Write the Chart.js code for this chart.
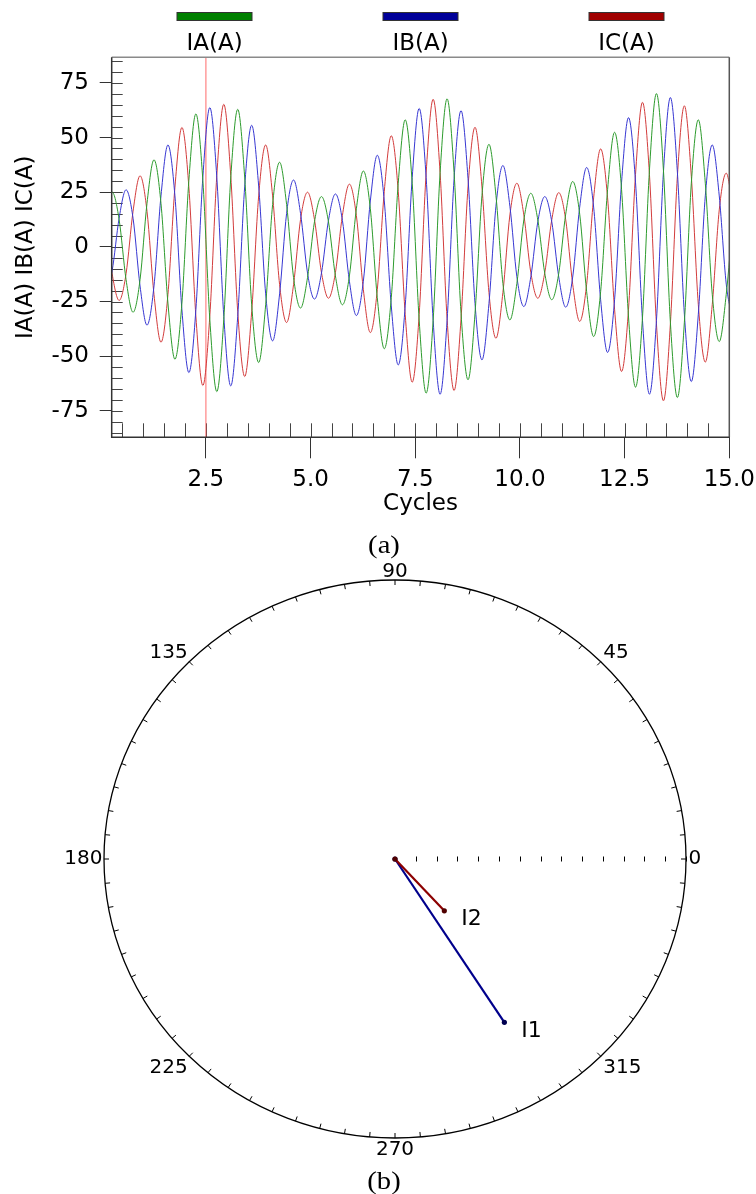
<!DOCTYPE html>
<html><head><meta charset="utf-8">
<script src="https://cdn.jsdelivr.net/npm/chart.js@4.4.1/dist/chart.umd.min.js"></script>
<style>
html,body{margin:0;padding:0;background:#fff;}
#page{position:relative;width:756px;height:1194px;overflow:hidden;background:#fff;}
canvas{position:absolute;left:0;}
.cap{position:absolute;width:120px;left:324px;text-align:center;font-family:'Liberation Serif','Times New Roman',serif;font-size:26px;line-height:30px;color:#000;transform:scaleX(1.1);}
</style></head>
<body><div id="page">
<canvas id="wave" width="756" height="520" style="top:0"></canvas>
<canvas id="phasor" width="756" height="649" style="top:545px"></canvas>
<div class="cap" style="top:530px">(a)</div>
<div class="cap" style="top:1166px">(b)</div>
</div>
<script>
const FONT = "'DejaVu Sans','Liberation Sans',sans-serif";

// ---- (a) waveform data: sample times in cycles (1/6-cycle grid) ----
const cycles = [0.093,
 0.26, 0.427, 0.593, 0.76, 0.927, 1.093,
 1.26, 1.427, 1.593, 1.76, 1.927, 2.093,
 2.26, 2.427, 2.593, 2.76, 2.927, 3.093,
 3.26, 3.427, 3.593, 3.76, 3.927, 4.093,
 4.26, 4.427, 4.593, 4.76, 4.927, 5.093,
 5.26, 5.427, 5.593, 5.76, 5.927, 6.093,
 6.26, 6.427, 6.593, 6.76, 6.927, 7.093,
 7.26, 7.427, 7.593, 7.76, 7.927, 8.093,
 8.26, 8.427, 8.593, 8.76, 8.927, 9.093,
 9.26, 9.427, 9.593, 9.76, 9.927, 10.093,
 10.26, 10.427, 10.593, 10.76, 10.927, 11.093,
 11.26, 11.427, 11.593, 11.76, 11.927, 12.093,
 12.26, 12.427, 12.593, 12.76, 12.927, 13.093,
 13.26, 13.427, 13.593, 13.76, 13.927, 14.093,
 14.26, 14.427, 14.593, 14.76, 14.927, 15.093];

const iaValues = [12.5,
 25.0, 12.5, -15.0, -29.9, -15.0, 19.9,
 39.8, 19.9, -25.7, -51.4, -25.7, 30.4,
 60.8, 30.4, -33.1, -66.2, -33.1, 31.5,
 62.9, 31.5, -26.5, -52.9, -26.5, 19.4,
 38.7, 19.4, -14.0, -28.0, -14.0, 11.5,
 23.0, 11.5, -13.3, -26.5, -13.3, 17.4,
 34.7, 17.4, -23.3, -46.6, -23.3, 29.1,
 58.1, 29.1, -33.5, -66.9, -33.5, 33.9,
 67.7, 33.9, -30.4, -60.8, -30.4, 23.5,
 46.9, 23.5, -16.7, -33.4, -16.7, 12.3,
 24.5, 12.3, -12.1, -24.2, -12.1, 15.0,
 29.9, 15.0, -20.5, -41.0, -20.5, 26.2,
 52.4, 26.2, -32.1, -64.2, -32.1, 35.1,
 70.1, 35.1, -34.5, -68.9, -34.5, 29.1,
 58.1, 29.1, -21.7, -43.3, -21.7, 14.0];

const ibValues = [-22.0,
 -11.0, 13.1, 26.1, 13.1, -17.9, -35.8,
 -17.9, 23.3, 46.6, 23.3, -28.8, -57.5,
 -28.8, 31.9, 63.7, 31.9, -31.8, -63.6,
 -31.8, 27.8, 55.6, 27.8, -21.5, -43.0,
 -21.5, 15.3, 30.6, 15.3, -12.0, -23.9,
 -12.0, 12.1, 24.2, 12.1, -15.7, -31.4,
 -15.7, 21.0, 41.9, 21.0, -27.0, -54.0,
 -27.0, 31.7, 63.3, 31.7, -33.7, -67.4,
 -33.7, 31.2, 62.3, 31.2, -25.9, -51.7,
 -25.9, 18.6, 37.2, 18.6, -13.7, -27.3,
 -13.7, 11.5, 23.0, 11.5, -13.8, -27.6,
 -13.8, 18.2, 36.3, 18.2, -24.2, -48.3,
 -24.2, 29.6, 59.1, 29.6, -33.7, -67.4,
 -33.7, 34.2, 68.3, 34.2, -30.8, -61.6,
 -30.8, 23.3, 46.6, 23.3, -17.0, -34.0];

const icValues = [11.5,
 -12.3, -24.5, -12.3, 16.3, 32.5, 16.3,
 -21.8, -43.6, -21.8, 27.3, 54.6, 27.3,
 -31.7, -63.4, -31.7, 32.6, 65.2, 32.6,
 -29.7, -59.3, -29.7, 23.3, 46.6, 23.3,
 -17.3, -34.6, -17.3, 12.5, 25.0, 12.5,
 -11.8, -23.5, -11.8, 14.4, 28.7, 14.4,
 -19.6, -39.2, -19.6, 25.4, 50.8, 25.4,
 -31.0, -61.9, -31.0, 33.8, 67.5, 33.8,
 -32.9, -65.7, -32.9, 27.4, 54.7, 27.4,
 -20.9, -41.8, -20.9, 14.6, 29.1, 14.6,
 -11.8, -23.5, -11.8, 12.4, 24.8, 12.4,
 -17.1, -34.1, -17.1, 22.4, 44.8, 22.4,
 -28.5, -57.0, -28.5, 33.1, 66.1, 33.1,
 -35.2, -70.4, -35.2, 32.3, 64.5, 32.3,
 -26.4, -52.7, -26.4, 16.9, 33.7, 16.9];

const seriesNames = ['IA(A)', 'IB(A)', 'IC(A)'];
const lineColors = ['rgb(45,155,45)', 'rgb(55,55,210)', 'rgb(210,60,60)'];
const legendColors = ['#008000', '#000099', '#a00000'];
const xTickValues = [2.5, 5.0, 7.5, 10.0, 12.5, 15.0];
const yTickValues = [-75, -50, -25, 0, 25, 50, 75];
const xTitle = 'Cycles';
const cursorCycle = 2.5;

// ---- (b) phasor data ----
const phasorNames = ['I1', 'I2'];
const phasorMagnitudes = [48.7, 17.6];
const phasorAngles = [302.7, 312.4];
const phasorColors = ['#00008c', '#8c0000'];
const phasorDotColors = ['#000050', '#500000'];
const rimLabels = [0, 45, 90, 135, 180, 225, 270, 315];
const radialMax = 70;

// ---------------- chart (a) ----------------
const wavePlugin = {
  id: 'waveFrame',
  beforeDatasetsDraw(chart) {
    const {ctx, chartArea: a, scales: {x, y}} = chart;
    ctx.save();
    ctx.strokeStyle = '#444';
    ctx.lineWidth = 1;
    ctx.beginPath();
    for (let v = -85; v <= 85; v += 5) {
      const py = Math.round(y.getPixelForValue(v)) + 0.5;
      ctx.moveTo(a.left, py); ctx.lineTo(a.left + 11, py);
    }
    for (let v = 0.5; v <= 15.001; v += 0.5) {
      const px = Math.round(x.getPixelForValue(v)) + 0.5;
      ctx.moveTo(px, a.bottom); ctx.lineTo(px, a.bottom - 14);
    }
    ctx.stroke();
    ctx.restore();
  },
  afterDatasetsDraw(chart) {
    const {ctx, chartArea: a} = chart;
    ctx.save();
    ctx.lineWidth = 1.5;
    ctx.strokeStyle = '#8a8a8a';
    ctx.beginPath(); ctx.moveTo(a.left, a.top); ctx.lineTo(a.right, a.top); ctx.stroke();
    ctx.strokeStyle = '#555';
    ctx.beginPath(); ctx.moveTo(a.right, a.top); ctx.lineTo(a.right, a.bottom); ctx.stroke();
    ctx.strokeStyle = '#333';
    ctx.beginPath(); ctx.moveTo(a.left, a.top); ctx.lineTo(a.left, a.bottom); ctx.lineTo(a.right, a.bottom); ctx.stroke();
    ctx.restore();
  },
  afterDraw(chart) {
    const {ctx, chartArea: a} = chart;
    const cx0 = (a.left + a.right) / 2;
    ctx.save();
    ctx.font = '23px ' + FONT;
    ctx.textAlign = 'center';
    ctx.textBaseline = 'middle';
    seriesNames.forEach((name, i) => {
      const cx = cx0 + (i - 1) * 206;
      ctx.fillStyle = legendColors[i];
      ctx.fillRect(cx - 37.5, 12.5, 75, 8);
      ctx.strokeStyle = '#333'; ctx.lineWidth = 1;
      ctx.strokeRect(cx - 37.5, 12.5, 75, 8);
      ctx.fillStyle = '#000';
      ctx.fillText(name, cx, 44);
    });
    ctx.restore();
  }
};

const waveSeries = [iaValues, ibValues, icValues];
new Chart(document.getElementById('wave'), {
  type: 'line',
  data: {
    datasets: seriesNames.map((name, i) => ({
      label: name,
      data: cycles.map((t, k) => ({x: t, y: waveSeries[i][k]})),
      borderColor: lineColors[i],
      borderWidth: 1,
      pointRadius: 0,
      fill: false,
      tension: 0.4,
      cubicInterpolationMode: 'monotone',
      capBezierPoints: false
    })).concat([{
      label: 'cursor',
      data: [{x: cursorCycle, y: -87.1}, {x: cursorCycle, y: 86.7}],
      borderColor: 'rgba(255,90,90,0.9)',
      borderWidth: 1,
      pointRadius: 0,
      fill: false
    }])
  },
  options: {
    responsive: false,
    animation: false,
    events: [],
    layout: {padding: {left: 0, top: 57.3, right: 26.7, bottom: 0}},
    plugins: {legend: {display: false}, tooltip: {enabled: false}, title: {display: false}},
    scales: {
      x: {
        type: 'linear', min: 0.25, max: 15,
        afterBuildTicks: s => { s.ticks = xTickValues.map(v => ({value: v})); },
        afterFit: s => { s.height = 82.7; s.paddingLeft = 0; s.paddingRight = 0; },
        border: {display: false},
        grid: {drawOnChartArea: false, drawTicks: true, tickLength: 21, color: '#333', lineWidth: 1},
        ticks: {padding: 7.5, maxRotation: 0, autoSkip: false, color: '#000',
          font: {family: FONT, size: 23}, callback: v => Number(v).toFixed(1)},
        title: {display: true, text: xTitle, color: '#000', font: {family: FONT, size: 23}, padding: {top: 0, bottom: 2}}
      },
      y: {
        type: 'linear', min: -87.1, max: 86.7,
        afterBuildTicks: s => { s.ticks = yTickValues.map(v => ({value: v})); },
        afterFit: s => { s.width = 111.7; s.paddingTop = 0; s.paddingBottom = 0; },
        border: {display: false},
        grid: {drawOnChartArea: false, drawTicks: true, tickLength: 12, color: '#333', lineWidth: 1},
        ticks: {padding: 10.7, autoSkip: false, color: '#000', font: {family: FONT, size: 23}},
        title: {display: true, text: seriesNames.join(' '), color: '#000', font: {family: FONT, size: 23}, padding: {top: 12, bottom: 0}}
      }
    }
  },
  plugins: [wavePlugin]
});

// ---------------- chart (b) ----------------
const polarPlugin = {
  id: 'polarFrame',
  beforeDatasetsDraw(chart) {
    const {ctx, scales: {x, y}} = chart;
    const cx = x.getPixelForValue(0), cy = y.getPixelForValue(0);
    const rx = x.getPixelForValue(radialMax) - cx;
    const ry = cy - y.getPixelForValue(radialMax);
    ctx.save();
    ctx.strokeStyle = '#000';
    ctx.lineWidth = 1.3;
    ctx.beginPath();
    ctx.ellipse(cx, cy, rx, ry, 0, 0, Math.PI * 2);
    ctx.stroke();
    ctx.lineWidth = 1;
    ctx.beginPath();
    for (let d = 0; d < 360; d += 5) {
      const r = d * Math.PI / 180, c = Math.cos(r), s = Math.sin(r);
      ctx.moveTo(cx + rx * c, cy - ry * s);
      ctx.lineTo(cx + (rx - 5) * c, cy - (ry - 5) * s);
    }
    for (let v = 5; v <= radialMax; v += 5) {
      const px = Math.round(x.getPixelForValue(v)) + 0.5;
      ctx.moveTo(px, cy - 2.5); ctx.lineTo(px, cy + 2.5);
    }
    ctx.stroke();
    ctx.fillStyle = '#000';
    ctx.font = '20px ' + FONT;
    rimLabels.forEach(d => {
      const r = d * Math.PI / 180, c = Math.cos(r), s = Math.sin(r);
      let px = cx + rx * c, py = cy - ry * s;
      let align = 'center', base = 'middle';
      if (c > 0.1) { align = 'left'; px += 2.5; } else if (c < -0.1) { align = 'right'; px -= 1.5; }
      if (s > 0.1) { base = 'alphabetic'; py -= 3.5; } else if (s < -0.1) { base = 'top'; py += 2; }
      ctx.textAlign = align; ctx.textBaseline = base;
      ctx.fillText(String(d), px, py);
    });
    ctx.restore();
  },
  afterDatasetsDraw(chart) {
    const {ctx} = chart;
    ctx.save();
    ctx.fillStyle = '#000';
    ctx.font = '22px ' + FONT;
    ctx.textAlign = 'left';
    ctx.textBaseline = 'middle';
    phasorNames.forEach((name, i) => {
      const tip = chart.getDatasetMeta(i).data[1];
      ctx.fillText(name, tip.x + 17, tip.y + 8.5);
    });
    ctx.restore();
  }
};

new Chart(document.getElementById('phasor'), {
  type: 'scatter',
  data: {
    datasets: phasorNames.map((name, i) => {
      const r = phasorAngles[i] * Math.PI / 180;
      return {
        label: name,
        data: [{x: 0, y: 0}, {x: phasorMagnitudes[i] * Math.cos(r), y: phasorMagnitudes[i] * Math.sin(r)}],
        showLine: true,
        borderColor: phasorColors[i],
        borderWidth: 2.2,
        pointRadius: 2.6,
        pointBorderWidth: 0,
        pointBackgroundColor: phasorDotColors[i],
        clip: false,
        order: phasorNames.length - i
      };
    })
  },
  options: {
    responsive: false,
    animation: false,
    events: [],
    layout: {padding: {left: 104, top: 35, right: 70, bottom: 56}},
    plugins: {legend: {display: false}, tooltip: {enabled: false}},
    scales: {
      x: {type: 'linear', min: -radialMax, max: radialMax, display: false},
      y: {type: 'linear', min: -radialMax, max: radialMax, display: false}
    }
  },
  plugins: [polarPlugin]
});
</script>
</body></html>
